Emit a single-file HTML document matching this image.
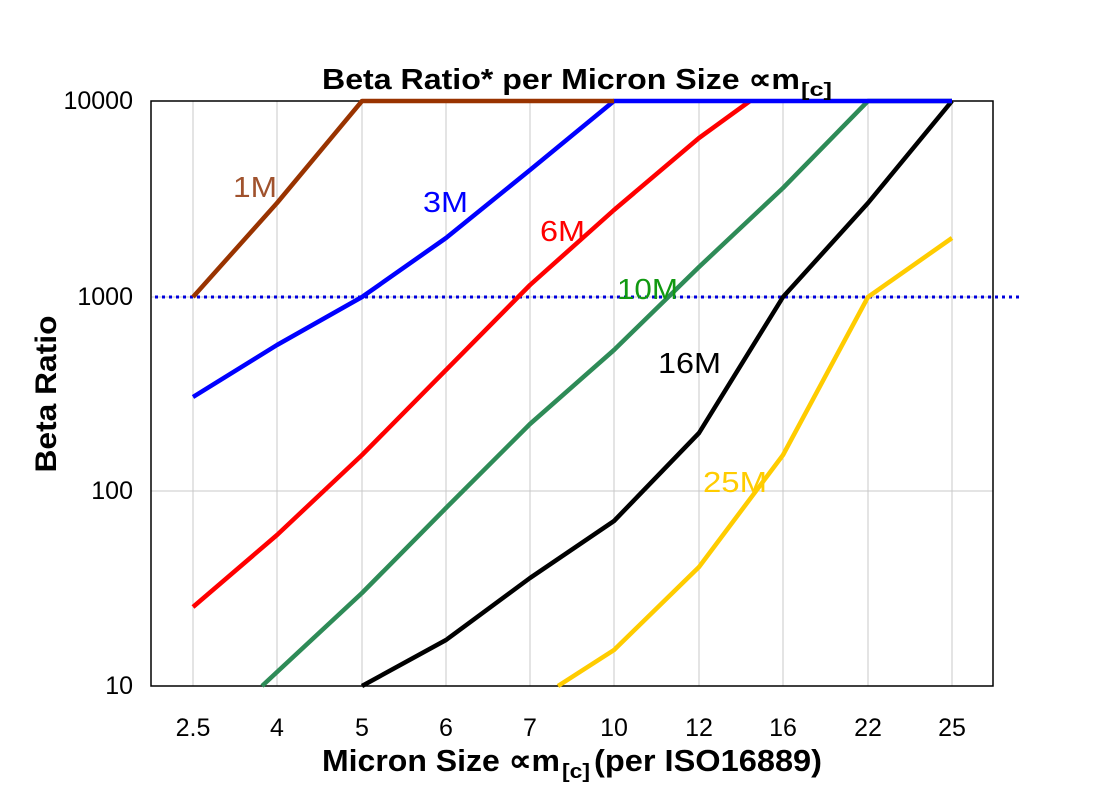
<!DOCTYPE html>
<html><head><style>
body{margin:0;background:#fff;}
svg text{font-family:"Liberation Sans",Arial,sans-serif;}
</style></head><body>
<svg width="1104" height="796" xmlns="http://www.w3.org/2000/svg">
<rect width="1104" height="796" fill="#fff"/>
<g stroke="#c8c8c8" stroke-width="1">
<line x1="193" y1="101" x2="193" y2="686"/><line x1="277" y1="101" x2="277" y2="686"/>
<line x1="362" y1="101" x2="362" y2="686"/><line x1="446" y1="101" x2="446" y2="686"/>
<line x1="530" y1="101" x2="530" y2="686"/><line x1="614" y1="101" x2="614" y2="686"/>
<line x1="699" y1="101" x2="699" y2="686"/><line x1="783" y1="101" x2="783" y2="686"/>
<line x1="868" y1="101" x2="868" y2="686"/><line x1="952" y1="101" x2="952" y2="686"/>
<line x1="151" y1="297" x2="993" y2="297"/><line x1="151" y1="491" x2="993" y2="491"/>
</g>
<rect x="151" y="101" width="842" height="585" fill="none" stroke="#000" stroke-width="1.5"/>
<line x1="155" y1="297" x2="1020" y2="297" stroke="#0000dd" stroke-width="3" stroke-dasharray="3,4"/>
<g fill="none" stroke-width="4.5" stroke-linejoin="round">
<polyline stroke="#ffcc00" points="558,686 614,650 699,567 783,455 868,297 952,238"/>
<polyline stroke="#000" points="362,686 446,640 530,578 614,521 699,433 783,297 868,203 952,101"/>
<polyline stroke="#2e8b57" points="262,686 362,593 446,508 530,424 614,350 699,267 783,188 868,101 952,101"/>
<polyline stroke="#ff0000" points="193,607 277,535 362,455 446,370 530,285 614,210 699,138 750,101"/>
<polyline stroke="#0000ff" points="193,397 277,345 362,297 446,238 530,170 614,101 952,101"/>
<polyline stroke="#993300" points="193,297 277,203 362,101 614,101"/>
</g>
<g font-size="29">
<text x="233" y="197" fill="#a0522d" textLength="44" lengthAdjust="spacingAndGlyphs">1M</text>
<text x="423" y="212" fill="#0000ff" textLength="45" lengthAdjust="spacingAndGlyphs">3M</text>
<text x="540" y="241" fill="#ff0000" textLength="45" lengthAdjust="spacingAndGlyphs">6M</text>
<text x="617" y="299" fill="#119911" textLength="61" lengthAdjust="spacingAndGlyphs">10M</text>
<text x="658" y="373" fill="#000" textLength="63" lengthAdjust="spacingAndGlyphs">16M</text>
<text x="703" y="492" fill="#ffcc00" textLength="64" lengthAdjust="spacingAndGlyphs">25M</text>
</g>
<g font-size="25" text-anchor="end">
<text x="133" y="109">10000</text><text x="133" y="305">1000</text>
<text x="133" y="499">100</text><text x="133" y="694">10</text>
</g>
<g font-size="25" text-anchor="middle">
<text x="193" y="736">2.5</text><text x="277" y="736">4</text><text x="362" y="736">5</text>
<text x="446" y="736">6</text><text x="530" y="736">7</text><text x="614" y="736">10</text>
<text x="699" y="736">12</text><text x="783" y="736">16</text><text x="868" y="736">22</text>
<text x="952" y="736">25</text>
</g>
<g font-weight="bold">
<text x="322" y="89" font-size="29" textLength="478" lengthAdjust="spacingAndGlyphs">Beta Ratio* per Micron Size ∝m</text>
<text x="801" y="96" font-size="19" textLength="31" lengthAdjust="spacingAndGlyphs">[c]</text>
<text x="322" y="771" font-size="31" textLength="238" lengthAdjust="spacingAndGlyphs">Micron Size ∝m</text>
<text x="562" y="778" font-size="20" textLength="28" lengthAdjust="spacingAndGlyphs">[c]</text>
<text x="594" y="771" font-size="31" textLength="228" lengthAdjust="spacingAndGlyphs">(per ISO16889)</text>
<text transform="translate(56,394) rotate(-90)" font-size="30" text-anchor="middle" textLength="157" lengthAdjust="spacingAndGlyphs">Beta Ratio</text>
</g>
</svg>
</body></html>
